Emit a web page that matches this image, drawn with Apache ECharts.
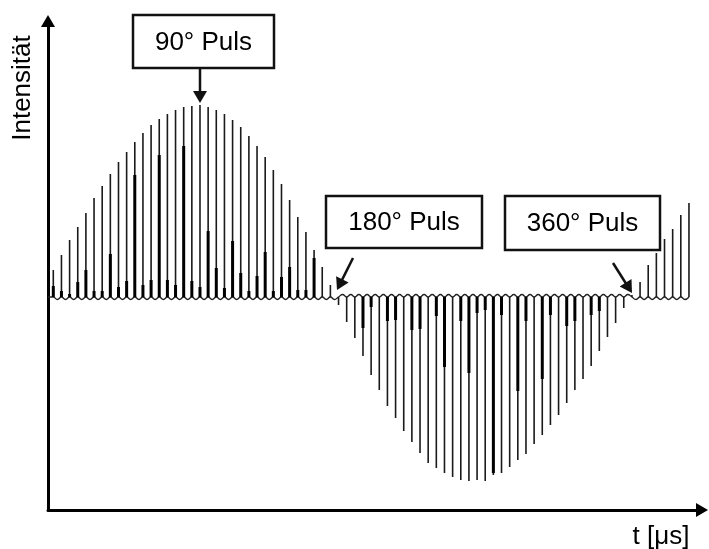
<!DOCTYPE html>
<html>
<head>
<meta charset="utf-8">
<script src="https://cdn.jsdelivr.net/npm/echarts@6/dist/echarts.min.js"></script>
<style>
  html, body { margin: 0; padding: 0; background: #fff; }
  #chart { width: 709px; height: 549px; }
</style>
</head>
<body>
<div id="chart"></div>
<script>
// ---- data ----
// Pulse peak heights (signed, arbitrary intensity units), one per pulse
const peaks = [
  27, 42, 57, 70, 84, 99, 111, 123, 135, 145, 155, 164, 172, 178, 183, 187, 190, 191, 192,
  190, 187, 183, 177, 170, 161, 151, 140, 127, 113, 97, 80, 65, 47, 30, 12,
  -8, -25, -41, -59, -78, -93, -109, -121, -134, -145, -156, -166, -171, -176, -180, -183,
  -184, -183, -184, -178, -176, -170, -163, -157, -147, -138, -128, -118, -106, -93, -82,
  -69, -54, -40, -26, -11,
  2,
  15, 32, 44, 58, 68, 82, 94
];
// Secondary (overlapping) inner peak heights, signed
const innerPeaks = [
  11, 6, 3, 15, 27, 6, 6, 43, 10, 16, 122, 12, 17, 142, 17, 12, 151, 16, 10,
  66, 29, 9, 56, 24, 6, 21, 45, 6, 20, 30, 7, 7, 39, 0, 0,
  0, 0, 0, -31, -10, 0, -24, -23, 0, -33, -32, 0, -19, -70, 0, -24,
  -76, -16, -13, -176, -18, 0, -94, -24, 0, -82, -18, 0, -29, -24, 0,
  -18, -14, 0, 0, 0,
  0,
  0, 0, 0, 0, 0, 0, 0
];
const rippleDepth = 2.5;
const labels = ['90° Puls', '180° Puls', '360° Puls'];
const yTitle = 'Intensität';
const xTitle = 't [μs]';

// ---- build series data ----
const spikeData = peaks.map((p, k) => [k, p, innerPeaks[k]]);
const baseline = [[-0.65, 0]];
for (let k = 0; k < peaks.length; k++) {
  baseline.push([k, 0]);
  if (k < peaks.length - 1) {
    const s = Math.sign(peaks[k] + peaks[k + 1]);
    baseline.push([k + 0.5, -s * rippleDepth]);
  }
}

const FONT = '"Liberation Sans", Arial, sans-serif';
const INK = '#111';

function arrowGraphic(x1, y1, x2, y2) {
  const dx = x2 - x1, dy = y2 - y1, L = Math.hypot(dx, dy);
  const ux = dx / L, uy = dy / L;
  const headLen = 12, halfW = 7;
  const bx = x2 - ux * headLen, by = y2 - uy * headLen;
  const px = -uy * halfW, py = ux * halfW;
  return [
    { type: 'line', shape: { x1: x1, y1: y1, x2: bx + ux, y2: by + uy },
      style: { stroke: INK, lineWidth: 2.5 }, z: 10 },
    { type: 'polygon', shape: { points: [[x2, y2], [bx + px, by + py], [bx - px, by - py]] },
      style: { fill: INK }, z: 10 }
  ];
}
function boxGraphic(x, y, w, h, text) {
  return [
    { type: 'rect', shape: { x: x, y: y, width: w, height: h },
      style: { fill: '#fff', stroke: INK, lineWidth: 2.5 }, z: 10 },
    { type: 'text', x: x + w / 2, y: y + h / 2 + 1,
      style: { text: text, font: '26px ' + FONT, fill: '#000', align: 'center', verticalAlign: 'middle' }, z: 11 }
  ];
}

const chart = echarts.init(document.getElementById('chart'), null, { renderer: 'canvas' });
chart.setOption({
  animation: false,
  backgroundColor: '#fff',
  grid: { left: 48, right: 7, top: 21, bottom: 39, containLabel: false },
  xAxis: {
    type: 'value', min: -0.65, max: 79.6,
    axisLine: { onZero: false, show: true, lineStyle: { color: '#000', width: 3 },
      symbol: ['none', 'triangle'], symbolSize: [14, 12] },
    axisTick: { show: false }, axisLabel: { show: false }, splitLine: { show: false }
  },
  yAxis: {
    type: 'value', min: -213, max: 276,
    axisLine: { onZero: false, show: true, lineStyle: { color: '#000', width: 3 },
      symbol: ['none', 'triangle'], symbolSize: [14, 12] },
    axisTick: { show: false }, axisLabel: { show: false }, splitLine: { show: false }
  },
  series: [
    {
      type: 'line', data: baseline, smooth: true, symbol: 'none',
      lineStyle: { color: '#222', width: 1.3 }, z: 2
    },
    {
      type: 'custom', data: spikeData, encode: { x: 0, y: 1 }, z: 3,
      renderItem: function (params, api) {
        const k = api.value(0), p = api.value(1), q = api.value(2);
        const b = api.coord([k, 0]);
        const t = api.coord([k, p]);
        const children = [{
          type: 'line', shape: { x1: b[0], y1: b[1], x2: t[0], y2: t[1] },
          style: { stroke: '#1a1a1a', lineWidth: 1.6 }
        }];
        if (q !== 0) {
          const iq = api.coord([k, q]);
          children.push({
            type: 'line', shape: { x1: b[0], y1: b[1], x2: iq[0], y2: iq[1] },
            style: { stroke: '#000', lineWidth: 3 }
          });
        }
        return { type: 'group', children: children };
      }
    }
  ],
  graphic: [].concat(
    boxGraphic(133, 15, 141, 53, labels[0]),
    arrowGraphic(200, 69, 200, 103),
    boxGraphic(326, 196, 156, 52, labels[1]),
    arrowGraphic(353, 258, 337, 290),
    boxGraphic(505, 196, 155, 54, labels[2]),
    arrowGraphic(613, 263, 632, 293),
    [
      { type: 'text', x: 23, y: 88, rotation: Math.PI / 2,
        style: { text: yTitle, font: '26px ' + FONT, fill: '#000', align: 'center', verticalAlign: 'middle' } },
      { type: 'text', x: 661, y: 537,
        style: { text: xTitle, font: '26px ' + FONT, fill: '#000', align: 'center', verticalAlign: 'middle' } }
    ]
  )
});
</script>
</body>
</html>
